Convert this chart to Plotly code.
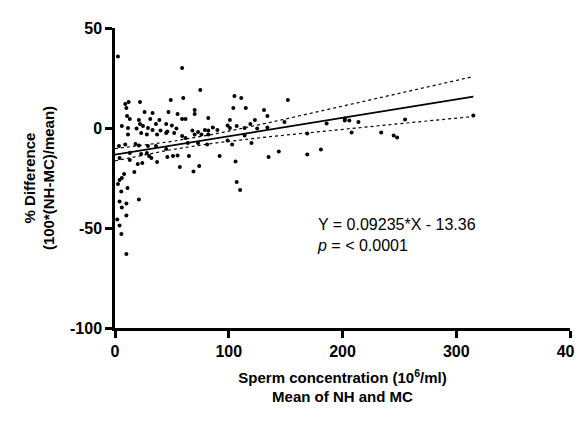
import numpy as np
import plotly.graph_objects as go

# mean of NH and MC (10^6/ml) and % difference
mean_conc = [2.6, 59, 75, 9, 12, 22, 49, 60, 105, 111, 152, 10, 104, 115, 70, 131, 26, 33, 47, 55,
             70, 134, 10.6, 13, 21, 31, 39, 59, 62, 82, 101, 123, 6, 22, 24.6, 36, 45, 50, 99, 107,
             119, 149, 11.4, 19, 29, 33, 40, 46, 54, 68, 73, 79, 82, 86, 90, 101, 114, 125, 134, 11.4,
             23, 28, 37, 45, 52, 59, 62, 70, 76, 82, 64, 73, 81, 99, 103, 114, 120, 9, 18, 21,
             29, 36, 45, 3.5, 13, 23, 28, 30, 46, 51, 55, 65, 92, 135, 144, 169, 169, 4, 13, 20,
             24, 32, 37, 57, 69, 74, 106, 17, 8, 6, 4, 2.6, 11, 5.5, 107, 110, 21, 10, 4, 6,
             10, 2, 4, 5.6, 10, 181, 186, 202, 202, 206, 214, 208, 234, 245, 248, 255, 315]
pct_diff = [35.8, 30, 19, 12, 13, 13, 14, 15, 16, 15, 14, 10, 10, 10, 9, 9, 8, 7.5, 8, 7,
            7, 6, 6, 4.5, 4, 4.5, 4, 4.5, 4.5, 5, 4, 4, 1, 2, 1, 2, 2, 1.3, 1.3, 1,
            2, 3, 0, -0.3, 0, -1, -1.3, -1.7, -0.3, -1.3, -2, -1, -1.3, 0.3, -1, 0, 0, -0.3, 0.3, -3.3,
            -2.5, -3.3, -3.3, -2.5, -2.5, -4, -5, -3.3, -3.3, -3.3, -7.5, -7.5, -8.3, -6.3, -8.3, -3.7, -7.5, -8.3, -8, -8.7,
            -9, -9, -10.5, -9, -12.5, -13, -12.5, -14, -14.5, -14, -13.7, -14, -14, -14.5, -11.7, -13.3, -2.8, -15, -16, -18,
            -17.5, -15, -17, -19.5, -21.7, -19, -16.7, -22, -23, -25, -26, -28, -30, -31.7, -27, -31, -35.8, -37.8, -36.7, -39.7,
            -43.8, -45.8, -48.7, -53, -63, -10.7, 2.3, 4.7, 3.7, 3.7, 3, -2.3, -2.3, -3.7, -4.7, 4.2, 6.3]

x_ticks = [0, 100, 200, 300, 400]
y_ticks = [-100, -50, 0, 50]
y_tick_labels = ["-100", "-50", "0", "50"]

slope = 0.09235
intercept = -13.36

xs = np.linspace(0, 315, 100)
fit = slope * xs + intercept
half = np.sqrt(4 + 0.001476 * (xs - 60) ** 2)

fig = go.Figure()
fig.add_trace(go.Scatter(x=mean_conc, y=pct_diff, mode="markers",
                         marker=dict(color="black", size=4), cliponaxis=False))
fig.add_trace(go.Scatter(x=xs, y=fit, mode="lines", line=dict(color="black", width=1.8)))
for band in (fit + half, fit - half):
    fig.add_trace(go.Scatter(x=xs, y=band, mode="lines",
                             line=dict(color="black", width=1.2, dash="dot")))

tick_font = dict(family="Liberation Sans", size=16, color="black", weight="bold")
axis_style = dict(showgrid=False, zeroline=False, showline=True, linecolor="black", linewidth=2.5,
                  ticks="outside", ticklen=7, tickwidth=2.5, tickcolor="black",
                  tickfont=tick_font, automargin=False)
fig.update_xaxes(range=[0, 400], tickvals=x_ticks, **axis_style,
                 title=dict(text="<b>Sperm concentration (10<sup>6</sup>/ml)<br>Mean of NH and MC</b>",
                            font=dict(family="Liberation Sans", size=15, color="black"), standoff=14))
fig.update_yaxes(range=[-100, 50], tickvals=y_ticks, ticktext=y_tick_labels, **axis_style,
                 title=dict(text="<b>% Difference<br>(100*(NH-MC)/mean)</b>",
                            font=dict(family="Liberation Sans", size=15, color="black"), standoff=12))
fig.update_layout(width=582, height=421, showlegend=False, plot_bgcolor="white", paper_bgcolor="white",
                  margin=dict(l=107, r=20, t=20, b=101),
                  font=dict(family="Liberation Sans", color="black"))
fig.add_annotation(x=176, y=-43, xref="x", yref="y", xanchor="left", yanchor="top", showarrow=False, align="left",
                   text="Y = 0.09235*X - 13.36<br><i>p</i> = < 0.0001",
                   font=dict(family="Liberation Sans", size=16, color="black"))
fig.write_html("out.html")
